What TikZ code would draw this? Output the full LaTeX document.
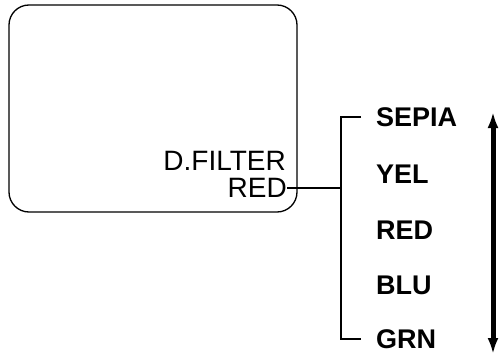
\documentclass[tikz,border=0pt]{standalone}
\usepackage{fontspec}
\setmainfont{Liberation Sans}
\usetikzlibrary{arrows.meta, positioning}

\begin{document}
\begin{tikzpicture}[x=1pt, y=-1pt,
    scr/.style={draw, line width=1.3pt, rounded corners=20pt, minimum width=288pt, minimum height=207pt, inner sep=0pt},
    osd/.style={font=\fontsize{28}{30}\selectfont, inner sep=0pt, anchor=east},
    opt/.style={font=\fontsize{27}{30}\selectfont\bfseries, inner sep=0pt, anchor=west},
    ln/.style={line width=1.6pt}]
  \useasboundingbox (0,0) rectangle (499,356);
  \node[scr] (screen) at (153,108.5) {};
  \node[osd] (filt) at (286,161) {D.FILTER};
  \node[osd] (fred) at (287,188) {RED};
  % options
  \node[opt] (sepia) at (376,117) {SEPIA};
  \node[opt] (yel)   at (376,174) {YEL};
  \node[opt] (red)   at (376,230) {RED};
  \node[opt] (blu)   at (376,285) {BLU};
  \node[opt] (grn)   at (376,339) {GRN};
  \coordinate (jn) at (341,188);
  \draw[ln] (fred.east) -- (jn);
  \draw[ln] ([xshift=-15pt]sepia.west) -| (jn) |- ([xshift=-15pt]grn.west);
  \coordinate (up) at (493,112);
  \coordinate (dn) at (493,354);
  \draw[{Latex[length=16pt,width=11pt]}-{Latex[length=16pt,width=11pt]}, line width=5pt] (up) -- (dn);
\end{tikzpicture}
\end{document}
